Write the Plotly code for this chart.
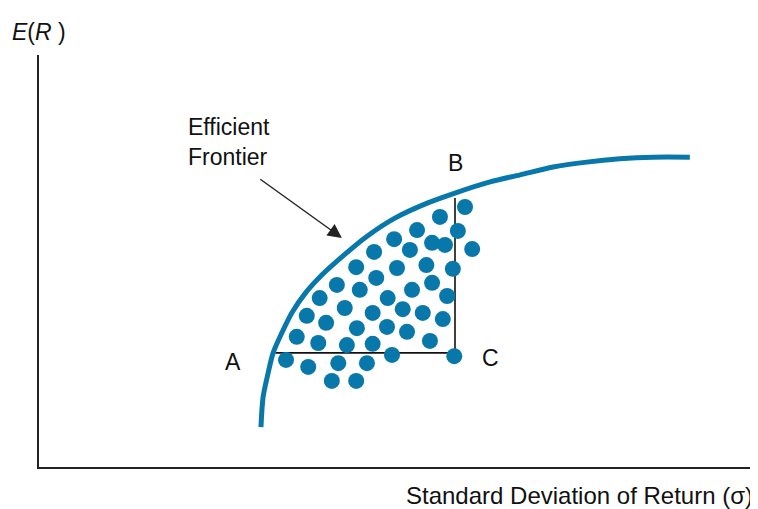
import plotly.graph_objects as go

# portfolio cloud (std dev, expected return) in chart units
PORT_SD = [59.5, 56.0, 58.5, 52.8, 49.6, 54.9, 56.7, 60.5, 51.8, 46.8,
           44.3, 50.0, 54.1, 57.8, 47.1, 41.6, 44.8, 52.1, 54.9, 39.2,
           48.7, 57.0, 42.7, 37.4, 46.6, 50.8, 53.6, 40.1, 56.4, 44.4,
           48.6, 51.4, 36.0, 39.0, 43.0, 46.6, 54.6, 49.3, 58.0, 34.5,
           37.6, 41.8, 45.8, 40.9, 44.3]
PORT_ER = [63.1, 60.7, 57.3, 57.5, 55.3, 54.4, 53.9, 52.9, 52.7, 52.2,
           48.5, 48.3, 49.0, 48.1, 45.9, 44.2, 43.0, 43.0, 44.7, 41.0,
           41.0, 41.5, 38.6, 36.7, 37.4, 38.3, 37.4, 35.0, 35.9, 33.7,
           34.0, 32.8, 31.6, 30.1, 29.6, 29.9, 30.6, 27.2, 26.9, 26.0,
           24.3, 25.2, 25.2, 20.9, 20.9]

# efficient frontier
FRONT_SD = [31.0, 31.3, 32.0, 32.7, 33.9, 35.3, 37.2, 39.5, 42.3, 45.5,
            49.7, 54.3, 58.1, 63.0, 67.2, 71.8, 76.5, 81.1, 85.8, 90.9]
FRONT_ER = [9.7, 17.0, 22.8, 27.7, 32.5, 37.4, 42.2, 46.6, 51.0, 55.6,
            60.4, 64.1, 66.5, 69.2, 70.9, 72.8, 74.0, 74.8, 75.2, 75.2]

# A -> C -> B guide lines
GUIDE_SD = [33.0, 58.1, 58.1]
GUIDE_ER = [27.7, 27.7, 65.3]

POINT_LABELS = ["A", "B", "C"]
LABEL_SD = [27.1, 58.1, 63.0]
LABEL_ER = [25.5, 73.8, 26.5]

BLUE = "#0878ab"
FONT = "Liberation Sans, Arial, sans-serif"

fig = go.Figure()

fig.add_trace(go.Scatter(
    x=GUIDE_SD, y=GUIDE_ER, mode="lines",
    line=dict(color="#111111", width=1.6),
    hoverinfo="skip",
))

fig.add_trace(go.Scatter(
    x=FRONT_SD, y=FRONT_ER, mode="lines",
    line=dict(color=BLUE, width=5, shape="spline", smoothing=0.8),
    hoverinfo="skip",
))

fig.add_trace(go.Scatter(
    x=PORT_SD, y=PORT_ER, mode="markers",
    marker=dict(color=BLUE, size=16, line=dict(width=0)),
    hovertemplate="σ: %{x}<br>E(R): %{y}<extra></extra>",
))

for lab, x, y in zip(POINT_LABELS, LABEL_SD, LABEL_ER):
    fig.add_annotation(x=x, y=y, text=lab, showarrow=False,
                       font=dict(size=23, color="#111111", family=FONT))

fig.add_annotation(
    x=42.3, y=55.6, ax=30.7, ay=70.1, axref="x", ayref="y",
    text="", showarrow=True, arrowhead=2, arrowsize=2,
    arrowwidth=1.4, arrowcolor="#222222",
)
fig.add_annotation(
    x=20.5, y=78.9, xanchor="left", yanchor="middle", align="left",
    text="Efficient<br>Frontier", showarrow=False,
    font=dict(size=23, color="#111111", family=FONT),
)

fig.add_annotation(
    xref="paper", yref="paper", x=1.0, y=-0.068, xanchor="right", yanchor="middle",
    text="Standard Deviation of Return (σ)", showarrow=False,
    font=dict(size=24, color="#111111", family=FONT),
)
fig.add_annotation(
    xref="paper", yref="paper", x=0.0, y=1.056, xanchor="center", yanchor="middle",
    text="<i>E</i>(<i>R</i> )", showarrow=False,
    font=dict(size=23, color="#111111", family=FONT),
)

# page body has an 8px margin, so the figure is sized to fit the window
fig.update_layout(
    width=750, height=501,
    paper_bgcolor="white", plot_bgcolor="white",
    showlegend=False,
    margin=dict(l=31, r=3, t=47, b=42),
    xaxis=dict(range=[0, 100], showgrid=False, zeroline=False, showticklabels=False,
               ticks="", showline=True, linecolor="#222222", linewidth=2),
    yaxis=dict(range=[0, 100], showgrid=False, zeroline=False, showticklabels=False,
               ticks="", showline=True, linecolor="#222222", linewidth=2),
)

fig.write_html("out.html")
